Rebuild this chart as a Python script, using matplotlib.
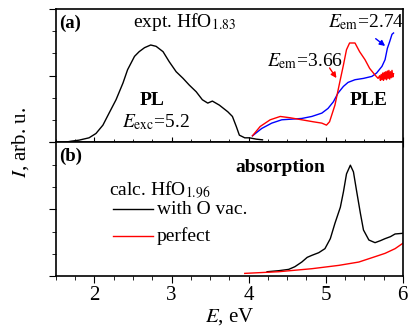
import matplotlib
matplotlib.use("Agg")
import matplotlib.pyplot as plt
import numpy as np

plt.rcParams["font.family"] = ["Liberation Serif", "DejaVu Serif"]
plt.rcParams["mathtext.fontset"] = "stix"

# (a) experiment: PL and PLE spectra
pl_x = [1.60, 1.70, 1.80, 1.93, 2.02, 2.11, 2.19, 2.28, 2.37, 2.43, 2.52, 2.58,
        2.65, 2.73, 2.80, 2.89, 2.97, 3.06, 3.15, 3.23, 3.32, 3.40, 3.47, 3.53,
        3.62, 3.73, 3.79, 3.84, 3.88, 3.95, 4.01, 4.10, 4.18]
pl_y = [0.00, 0.02, 0.035, 0.07, 0.135, 0.26, 0.44, 0.64, 0.89, 1.09, 1.29,
        1.36, 1.42, 1.46, 1.44, 1.36, 1.21, 1.06, 0.96, 0.86, 0.76, 0.64, 0.59,
        0.62, 0.56, 0.46, 0.39, 0.24, 0.11, 0.07, 0.07, 0.05, 0.04]

ple274_x = [4.05, 4.17, 4.30, 4.43, 4.56, 4.69, 4.82, 4.95, 5.03, 5.10, 5.16,
            5.23, 5.29, 5.38, 5.49, 5.60, 5.66, 5.73, 5.77, 5.80, 5.83, 5.86,
            5.88]
ple274_y = [0.10, 0.21, 0.29, 0.34, 0.35, 0.36, 0.39, 0.44, 0.51, 0.61, 0.74,
            0.84, 0.90, 0.94, 0.96, 0.99, 1.04, 1.14, 1.24, 1.41, 1.51, 1.62,
            1.64]

ple366_x = [4.05, 4.15, 4.28, 4.41, 4.54, 4.69, 4.84, 4.95, 5.01, 5.05, 5.12,
            5.18, 5.23, 5.27, 5.31, 5.38, 5.44, 5.51, 5.57, 5.64, 5.68, 5.70,
            5.71, 5.72, 5.73, 5.74, 5.75, 5.76, 5.77, 5.78, 5.79, 5.80, 5.81,
            5.82, 5.83, 5.84, 5.85, 5.86, 5.87, 5.88]
ple366_y = [0.10, 0.24, 0.34, 0.39, 0.37, 0.34, 0.31, 0.29, 0.26, 0.31, 0.56,
            0.89, 1.16, 1.39, 1.49, 1.49, 1.36, 1.24, 1.11, 1.01, 0.96, 1.00,
            0.93, 1.02, 0.94, 1.04, 0.93, 1.05, 0.95, 1.06, 0.94, 1.07, 0.96,
            1.08, 0.95, 1.06, 0.97, 1.08, 0.98, 1.03]

# (b) calculation: absorption
vac_x = [4.24, 4.39, 4.52, 4.60, 4.69, 4.76, 4.82, 4.91, 4.99, 5.06, 5.12,
         5.19, 5.23, 5.27, 5.32, 5.36, 5.40, 5.45, 5.49, 5.56, 5.64, 5.71,
         5.77, 5.84, 5.90, 6.00]
vac_y = [0.065, 0.08, 0.10, 0.14, 0.21, 0.28, 0.31, 0.35, 0.41, 0.56, 0.79,
         1.03, 1.26, 1.53, 1.66, 1.56, 1.28, 0.94, 0.69, 0.54, 0.50, 0.53,
         0.56, 0.59, 0.63, 0.64]

perf_x = [3.95, 4.39, 4.82, 5.17, 5.43, 5.64, 5.77, 5.90, 6.00]
perf_y = [0.04, 0.065, 0.11, 0.16, 0.21, 0.29, 0.34, 0.41, 0.49]

fig, (ax1, ax2) = plt.subplots(2, 1, figsize=(4.11, 3.31), dpi=100, sharex=True)
fig.subplots_adjust(left=0.136, right=0.98, top=0.973, bottom=0.166, hspace=0)

ax1.plot(pl_x, pl_y, color="black", lw=1.0)
ax1.plot(ple274_x, ple274_y, color="blue", lw=1.0)
ax1.plot(ple366_x, ple366_y, color="red", lw=1.0)

ax2.plot(vac_x, vac_y, color="black", lw=1.0)
ax2.plot(perf_x, perf_y, color="red", lw=1.0)

for ax in (ax1, ax2):
    ax.set_xlim(1.5, 6.0)
    ax.set_ylim(0, 2)
    ax.set_yticks([0, 1, 2])
    ax.set_yticks(np.arange(0, 2.01, 1 / 3), minor=True)
    ax.set_yticklabels([])
    ax.set_xticks([2, 3, 4, 5, 6])
    ax.set_xticks(np.arange(1.5, 6.01, 0.25), minor=True)
    ax.tick_params(axis="y", which="both", direction="out", right=False)
    ax.tick_params(axis="y", which="major", length=5)
    ax.tick_params(axis="y", which="minor", length=3)
    for sp in ax.spines.values():
        sp.set_linewidth(1.2)

ax1.tick_params(axis="x", which="both", direction="inout", top=False,
                labelbottom=False)
ax1.tick_params(axis="x", which="major", length=7)
ax1.tick_params(axis="x", which="minor", length=4)
ax2.tick_params(axis="x", which="both", direction="out", top=False,
                labelsize=15, pad=2)
ax2.tick_params(axis="x", which="major", length=5)
ax2.tick_params(axis="x", which="minor", length=3)

fs = 14
ax1.text(0.01, 0.96, "(a)", transform=ax1.transAxes, fontsize=13.5,
         fontweight="bold", va="top", ha="left")
ax1.text(2.50, 1.80, "expt. HfO$_{\\mathrm{1.83}}$", fontsize=fs, ha="left",
         va="center")
ax1.text(2.75, 0.63, "PL", fontsize=fs, fontweight="bold", ha="center",
         va="center")
ax1.text(2.80, 0.31, "$E_{\\mathrm{exc}}$=5.2", fontsize=fs, ha="center",
         va="center")
ax1.text(5.22, 1.22, "$E_{\\mathrm{em}}$=3.66", fontsize=fs, ha="right",
         va="center")
ax1.text(6.02, 1.80, "$E_{\\mathrm{em}}$=2.74", fontsize=fs, ha="right",
         va="center")
ax1.text(5.55, 0.63, "PLE", fontsize=fs, fontweight="bold", ha="center",
         va="center")
ax1.annotate("", xy=(5.16, 0.93), xytext=(5.03, 1.15),
             arrowprops=dict(arrowstyle="-|>", color="red", lw=1.0,
                             mutation_scale=8))
ax1.annotate("", xy=(5.80, 1.42), xytext=(5.62, 1.58),
             arrowprops=dict(arrowstyle="-|>", color="blue", lw=1.0,
                             mutation_scale=8))

ax2.text(0.01, 0.96, "(b)", transform=ax2.transAxes, fontsize=13.5,
         fontweight="bold", va="top", ha="left")
ax2.text(4.41, 1.63, "absorption", fontsize=fs, fontweight="bold",
         ha="center", va="center")
ax2.text(2.19, 1.28, "calc. HfO$_{\\mathrm{1.96}}$", fontsize=fs, ha="left",
         va="center")
ax2.plot([2.24, 2.76], [1.0, 1.0], color="black", lw=1.0)
ax2.text(2.81, 1.0, "with O vac.", fontsize=fs, ha="left", va="center")
ax2.plot([2.24, 2.76], [0.60, 0.60], color="red", lw=1.0)
ax2.text(2.81, 0.60, "perfect", fontsize=fs, ha="left", va="center")

ax2.set_xlabel("$E$, eV", fontsize=15, labelpad=1)
fig.text(0.05, 0.57, "$I$, arb. u.", fontsize=15, rotation=90,
         ha="center", va="center")

fig.savefig("out.png", dpi=100)
